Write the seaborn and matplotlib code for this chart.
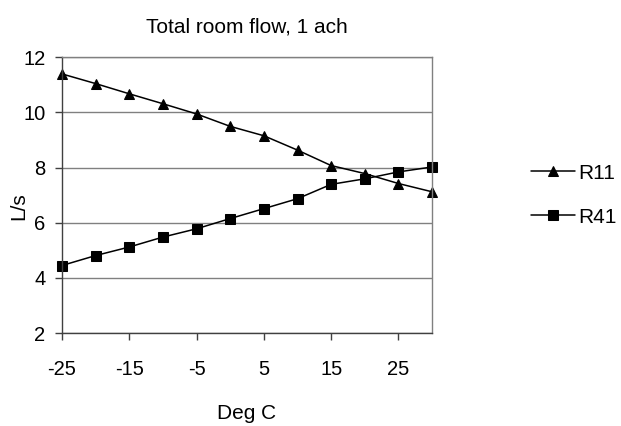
import pandas as pd
import matplotlib.pyplot as plt
import seaborn as sns

# temperatura (Deg C) e vazão (L/s)
temps = [-25, -20, -15, -10, -5, 0, 5, 10, 15, 20, 25, 30]
r11 = [11.39, 11.04, 10.67, 10.31, 9.94, 9.49, 9.15, 8.63, 8.07, 7.78, 7.42, 7.12]
r41 = [4.45, 4.81, 5.12, 5.48, 5.78, 6.15, 6.51, 6.87, 7.39, 7.59, 7.84, 8.02]
series = ['R11', 'R41']
y_ticks = [2, 4, 6, 8, 10, 12]
x_ticks = [-25, -15, -5, 5, 15, 25]

df = pd.DataFrame({
    'temp': temps * 2,
    'flow': r11 + r41,
    'series': [series[0]] * len(temps) + [series[1]] * len(temps),
})

sns.set_style('white')
plt.rcParams['font.family'] = ['Liberation Sans', 'DejaVu Sans']
plt.rcParams['axes.unicode_minus'] = False
plt.rcParams['text.color'] = 'black'
plt.rcParams['axes.labelcolor'] = 'black'
plt.rcParams['xtick.color'] = 'black'
plt.rcParams['ytick.color'] = 'black'

fig = plt.figure(figsize=(6.21, 4.26), dpi=100)
ax = fig.add_axes([0.0998, 0.218, 0.5960, 0.648])

sns.lineplot(data=df, x='temp', y='flow', style='series', markers={'R11': '^', 'R41': 's'},
             dashes=False, color='black', linewidth=1.1, markersize=6.5,
             markeredgecolor='black', ax=ax)
for ln in ax.lines:
    ln.set_clip_on(False)

ax.set_xlim(-25, 30)
ax.set_ylim(2, 12)
ax.set_xticks(x_ticks)
ax.set_yticks(y_ticks)
ax.tick_params(axis='both', labelsize=14.5, length=5, width=1, color='#404040',
               direction='out', bottom=True, left=True)
ax.tick_params(axis='x', pad=14)
ax.tick_params(axis='y', pad=7)
ax.yaxis.grid(True, color='#808080', linewidth=1)
ax.set_axisbelow(True)
for s in ['top', 'right']:
    ax.spines[s].set_color('#808080')
for s in ['left', 'bottom']:
    ax.spines[s].set_color('#404040')
for s in ax.spines.values():
    s.set_linewidth(1)

ax.set_title('Total room flow, 1 ach', fontsize=15, pad=18)
ax.set_xlabel('Deg C', fontsize=15, labelpad=18)
ax.set_ylabel('L/s', fontsize=15)
ax.yaxis.set_label_coords(-0.09, 0.46)

ax.legend(loc='center left', bbox_to_anchor=(0.855, 0.542), bbox_transform=fig.transFigure,
          frameon=False, fontsize=15, handlelength=2.1, handletextpad=0.15,
          labelspacing=1.2, borderpad=0, borderaxespad=0)

fig.savefig('out.png', dpi=100)
